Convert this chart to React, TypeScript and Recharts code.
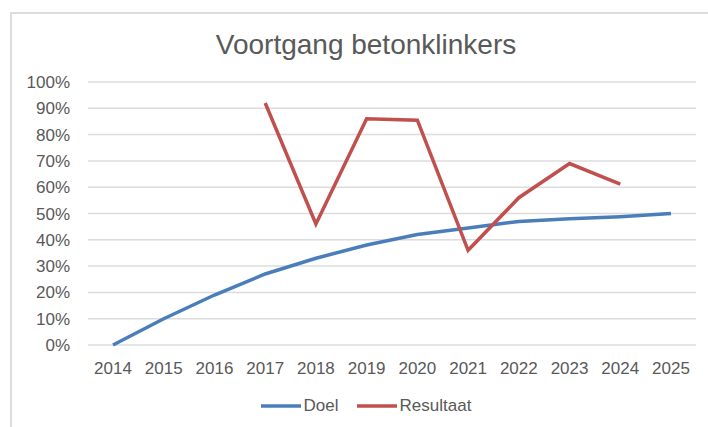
import { LineChart, Line, XAxis, YAxis, CartesianGrid, Legend } from 'recharts';

const years = ['2014', '2015', '2016', '2017', '2018', '2019', '2020', '2021', '2022', '2023', '2024', '2025'];
const doel = [0, 10, 19, 27, 33, 38, 42, 44.5, 47, 48, 48.8, 50];
const resultaat = [null, null, null, 92, 46, 86, 85.5, 36, 56, 69, 61.2, null];
const yTicks = [0, 10, 20, 30, 40, 50, 60, 70, 80, 90, 100];

const FONT = '"Liberation Sans", Arial, Helvetica, sans-serif';
const GREY = '#595959';
const BLUE = '#4a7ebb';
const RED = '#c0504d';

const data = years.map((year, i) => ({ year, Doel: doel[i], Resultaat: resultaat[i] }));

function LegendContent({ payload }: any) {
  return (
    <div style={{ display: 'flex', justifyContent: 'center', alignItems: 'center', height: 24, fontFamily: FONT }}>
      {(payload || []).map((p: any, i: number) => (
        <div key={p.value} style={{ display: 'flex', alignItems: 'center', marginLeft: i ? 18 : 0 }}>
          <svg width={40} height={6}>
            <line x1={0} y1={3} x2={40} y2={3} stroke={p.color} strokeWidth={3.5} />
          </svg>
          <span style={{ marginLeft: 3, fontSize: 17, color: GREY }}>{p.value}</span>
        </div>
      ))}
    </div>
  );
}

export default function App() {
  return (
    <div style={{ position: 'absolute', left: 0, top: 0, width: 708, height: 427, overflow: 'hidden', background: '#fff', fontFamily: FONT }}>
      {/* chart frame, runs off the right and bottom edge */}
      <div style={{ position: 'absolute', left: 10, top: 12, width: 740, height: 440, border: '2px solid #dcdcdc', boxSizing: 'border-box' }} />
      <div style={{ position: 'absolute', left: 12, top: 31, width: 708, textAlign: 'center', fontSize: 28, lineHeight: '28px', color: GREY }}>
        Voortgang betonklinkers
      </div>
      <div style={{ position: 'absolute', left: 12, top: 14 }}>
        <LineChart width={708} height={415} data={data} margin={{ top: 68, right: 24, left: 0, bottom: 11 }}>
          <CartesianGrid vertical={false} stroke="#dcdcdc" strokeWidth={1.5} />
          <XAxis
            dataKey="year"
            interval={0}
            height={49}
            padding={{ left: 25, right: 25 }}
            axisLine={false}
            tickLine={false}
            tickSize={0}
            tickMargin={17}
            tick={{ fill: GREY, fontSize: 17, fontFamily: FONT }}
          />
          <YAxis
            domain={[0, 100]}
            ticks={yTicks}
            width={76}
            axisLine={false}
            tickLine={false}
            tickSize={0}
            tickMargin={18}
            tickFormatter={(v: number) => `${v}%`}
            tick={{ fill: GREY, fontSize: 17, fontFamily: FONT }}
          />
          <Legend verticalAlign="bottom" content={<LegendContent />} wrapperStyle={{ left: 0, width: 708, height: 24 }} />
          <Line type="linear" dataKey="Doel" stroke={BLUE} strokeWidth={3.5} dot={false} isAnimationActive={false} />
          <Line type="linear" dataKey="Resultaat" stroke={RED} strokeWidth={3.5} dot={false} isAnimationActive={false} />
        </LineChart>
      </div>
    </div>
  );
}
